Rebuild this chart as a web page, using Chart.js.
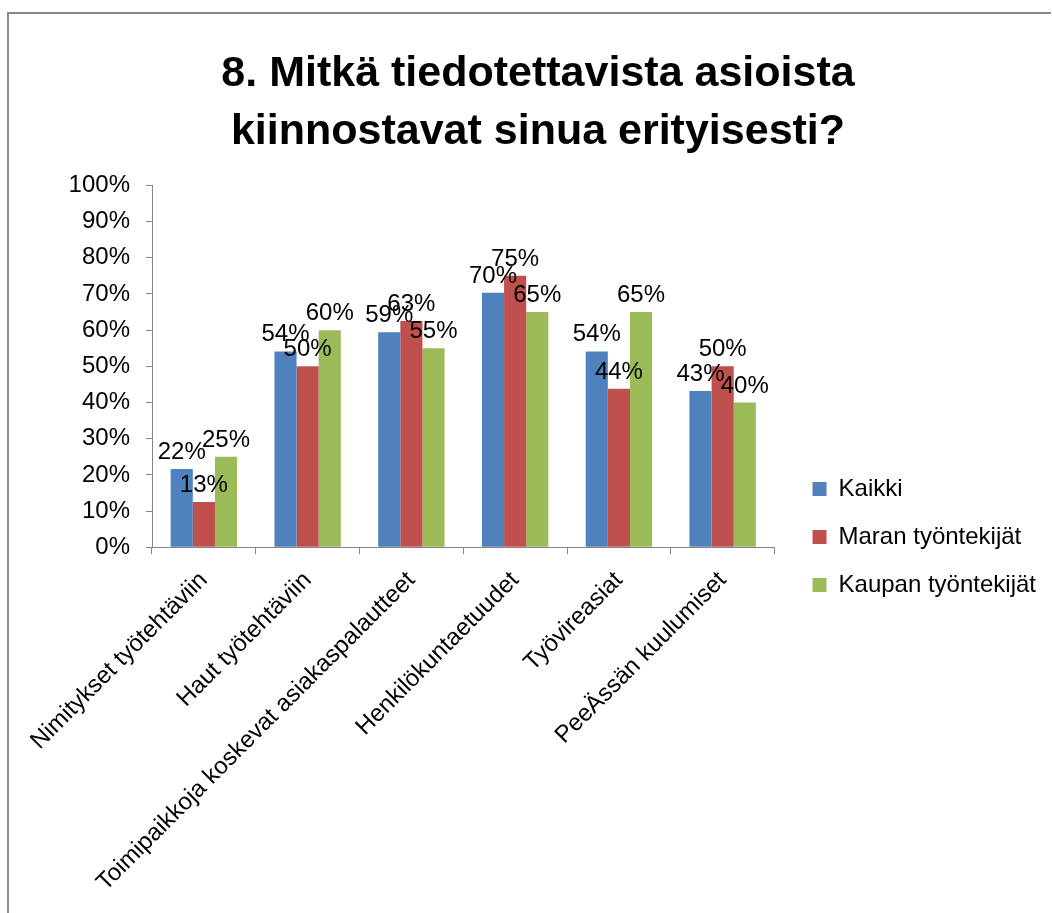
<!DOCTYPE html>
<html>
<head>
<meta charset="utf-8">
<script src="https://cdn.jsdelivr.net/npm/chart.js@4/dist/chart.umd.min.js"></script>
<style>
html, body { margin: 0; padding: 0; background: #fff; }
canvas { display: block; }
</style>
</head>
<body>
<canvas id="barChart" width="1052" height="913"></canvas>
<script>
const titleLines = ['8. Mitkä tiedotettavista asioista', 'kiinnostavat sinua erityisesti?'];
const categories = ['Nimitykset työtehtäviin', 'Haut työtehtäviin', 'Toimipaikkoja koskevat asiakaspalautteet',
    'Henkilökuntaetuudet', 'Työvireasiat', 'PeeÄssän kuulumiset'];
const kaikki = [21.6, 54.1, 59.4, 70.3, 54.1, 43.2];
const maranTyontekijat = [12.5, 50, 62.5, 75, 43.8, 50];
const kaupanTyontekijat = [25, 60, 55, 65, 65, 40];
const yTicks = [0, 10, 20, 30, 40, 50, 60, 70, 80, 90, 100];

const fontFamily = '"Liberation Sans", Arial, sans-serif';
const axisGray = '#868686';

// white background + the grey frame round the chart
const frame = {
    id: 'frame',
    beforeDraw: (chart) => {
        const ctx = chart.ctx;
        ctx.save();
        ctx.fillStyle = 'white';
        ctx.fillRect(0, 0, chart.width, chart.height);
        ctx.strokeStyle = '#8a8a8a';
        ctx.lineWidth = 2;
        ctx.beginPath();
        ctx.moveTo(8, chart.height + 5);
        ctx.lineTo(8, 13);
        ctx.lineTo(chart.width - 1, 13);
        ctx.stroke();
        ctx.restore();
    }
};

// nudge legend away from the plot and re-centre the title over the page
const nudge = {
    id: 'nudge',
    afterLayout: (chart) => {
        if (chart.legend) {
            chart.legend.left += 14;
            chart.legend.right += 14;
        }
        if (chart.titleBlock) {
            chart.titleBlock.left += 22;
            chart.titleBlock.right += 22;
        }
    }
};

// percent labels above the bars
const barLabels = {
    id: 'barLabels',
    afterDatasetsDraw: (chart) => {
        const ctx = chart.ctx;
        ctx.save();
        ctx.font = '24px ' + fontFamily;
        ctx.fillStyle = '#000';
        ctx.textAlign = 'center';
        ctx.textBaseline = 'alphabetic';
        chart.data.datasets.forEach((ds, i) => {
            chart.getDatasetMeta(i).data.forEach((bar, j) => {
                ctx.fillText(Math.round(ds.data[j]) + '%', bar.x, bar.y - 10);
            });
        });
        ctx.restore();
    }
};

const ctx = document.getElementById('barChart').getContext('2d');
const barChart = new Chart(ctx, {
    type: 'bar',
    data: {
        labels: categories,
        datasets: [{
            label: 'Kaikki',
            data: kaikki,
            backgroundColor: '#4F81BD'
        }, {
            label: 'Maran työntekijät',
            data: maranTyontekijat,
            backgroundColor: '#C0504D'
        }, {
            label: 'Kaupan työntekijät',
            data: kaupanTyontekijat,
            backgroundColor: '#9BBB59'
        }]
    },
    options: {
        responsive: false,
        animation: false,
        layout: {
            padding: { top: 10, left: 0, right: 20, bottom: 4 }
        },
        datasets: {
            bar: {
                categoryPercentage: 0.64,
                barPercentage: 1
            }
        },
        scales: {
            x: {
                grid: {
                    offset: true,
                    drawOnChartArea: false,
                    drawTicks: true,
                    tickLength: 7,
                    color: axisGray
                },
                border: { color: axisGray },
                ticks: {
                    autoSkip: false,
                    minRotation: 45,
                    maxRotation: 45,
                    padding: 12,
                    color: '#000',
                    font: { family: fontFamily, size: 24 }
                }
            },
            y: {
                min: 0,
                max: 100,
                afterBuildTicks: (scale) => {
                    scale.ticks = yTicks.map(v => ({ value: v }));
                },
                afterFit: (scale) => {
                    scale.width = 152;
                },
                grid: {
                    drawOnChartArea: false,
                    drawTicks: true,
                    tickLength: 6,
                    color: axisGray
                },
                border: { color: axisGray },
                ticks: {
                    padding: 16,
                    color: '#000',
                    font: { family: fontFamily, size: 24 },
                    callback: (v) => v + '%'
                }
            }
        },
        plugins: {
            title: {
                display: true,
                text: titleLines,
                color: '#000',
                font: { family: fontFamily, size: 43, weight: 'bold', lineHeight: 1.33 },
                padding: { top: 36, bottom: 25 }
            },
            legend: {
                display: true,
                position: 'right',
                title: {
                    display: true,
                    text: ' ',
                    font: { size: 10, lineHeight: 1 },
                    padding: { top: 145, bottom: 0 }
                },
                labels: {
                    boxWidth: 14,
                    boxHeight: 14,
                    padding: 24,
                    color: '#000',
                    font: { family: fontFamily, size: 24 }
                }
            },
            tooltip: { enabled: false }
        }
    },
    plugins: [frame, nudge, barLabels]
});
</script>
</body>
</html>
